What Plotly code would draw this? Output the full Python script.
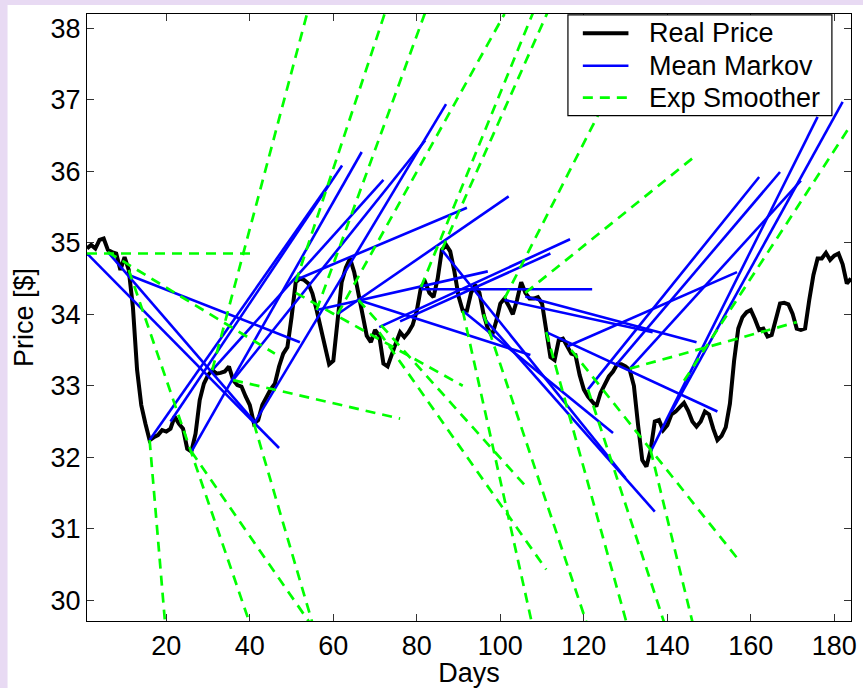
import plotly.graph_objects as go

# real price, one value per day
days = list(range(1, 185))
price = [
    34.92, 34.97, 34.92, 35.04, 35.06, 34.90, 34.87, 34.85, 34.62, 34.80,
    34.62, 34.10, 33.22, 32.73, 32.47, 32.24, 32.28, 32.31, 32.38, 32.36,
    32.40, 32.57, 32.47, 32.40, 32.12, 32.08, 32.33, 32.80, 33.03, 33.15,
    33.22, 33.17, 33.18, 33.20, 33.27, 33.08, 33.01, 32.99, 32.85, 32.73,
    32.47, 32.52, 32.73, 32.85, 32.95, 33.03, 33.27, 33.45, 33.54, 33.96,
    34.45, 34.50, 34.48, 34.43, 34.29, 34.06, 33.80, 33.50, 33.30, 33.35,
    33.90, 34.45, 34.65, 34.78, 34.59, 34.30, 33.95, 33.70, 33.61, 33.78,
    33.70, 33.31, 33.27, 33.45, 33.60, 33.75, 33.68, 33.75, 33.85, 34.05,
    34.38, 34.45, 34.30, 34.24, 34.50, 34.90, 34.97, 34.88, 34.60, 34.25,
    34.05, 34.05, 34.30, 34.41, 34.30, 34.00, 33.80, 33.70, 33.90, 34.15,
    34.22, 34.12, 34.00, 34.20, 34.45, 34.30, 34.22, 34.22, 34.24, 34.15,
    33.75, 33.40, 33.36, 33.64, 33.66, 33.56, 33.45, 33.43, 33.15, 32.95,
    32.85, 32.78, 32.71, 32.90, 33.03, 33.13, 33.20, 33.30, 33.30, 33.27,
    33.22, 33.00, 32.45, 31.96, 31.87, 32.10, 32.50, 32.52, 32.38, 32.45,
    32.60, 32.64, 32.70, 32.76, 32.65, 32.50, 32.43, 32.50, 32.64, 32.60,
    32.40, 32.24, 32.30, 32.42, 32.75, 33.35, 33.80, 33.96, 34.03, 34.06,
    33.93, 33.78, 33.80, 33.69, 33.71, 33.95, 34.15, 34.16, 34.14, 34.01,
    33.80, 33.78, 33.80, 34.20, 34.55, 34.78, 34.78, 34.86, 34.76, 34.82,
    34.85, 34.70, 34.43, 34.50,
]

# mean markov forecasts: start day/value -> end day/value
mm_day0 = [1, 6, 11, 16, 21, 26, 31, 36, 41, 51, 56, 61, 66, 71, 76, 81, 86,
           91, 96, 101, 106, 111, 116, 121, 128, 131, 136, 141]
mm_val0 = [34.85, 34.87, 34.55, 32.24, 32.50, 32.08, 33.22, 33.08, 32.47, 34.48,
           34.06, 34.00, 34.20, 33.82, 33.90, 34.35, 34.90, 34.05, 33.95, 34.20,
           34.25, 33.75, 33.55, 32.95, 33.31, 33.24, 32.08, 32.64]
mm_day1 = [47, 41.5, 52, 59.3, 62.1, 66.8, 72, 82, 87, 92, 97, 102, 107.2, 116.7,
           112, 122, 130, 127, 137, 136.5, 147, 152, 156.7, 162, 167, 172, 176, 182]
mm_val1 = [32.13, 32.47, 33.61, 35.85, 36.08, 36.27, 35.88, 36.43, 36.94, 35.49,
           34.60, 35.65, 33.43, 35.05, 34.85, 34.35, 31.71, 32.34, 31.24, 33.75,
           33.61, 32.64, 34.59, 35.92, 35.99, 35.87, 36.76, 36.97]

# exponential smoother forecasts, 40 days ahead
es_day0 = [1, 6, 11, 16, 26, 31, 36, 41, 51, 51, 56, 61, 66, 71, 81, 86, 91,
           96, 101, 106, 111, 117, 121, 131, 136, 144]
es_val0 = [34.85, 34.87, 34.62, 32.24, 32.08, 33.22, 33.08, 32.47, 34.45, 34.30,
           34.06, 34.00, 34.20, 33.75, 34.38, 34.90, 34.05, 34.00, 34.22, 34.30,
           33.75, 33.50, 32.95, 33.24, 32.10, 33.07]
es_val1 = [34.85, 33.45, 27.80, 4.60, 28.70, 42.00, 32.54, 24.50, 41.50, 33.00,
           40.46, 38.20, 31.60, 30.43, 40.10, 40.15, 23.50, 27.00, 38.80, 36.18,
           25.30, 30.57, 25.80, 33.89, 22.50, 36.65]
horizon = 40

legend_names = ["Real Price", "Mean Markov", "Exp Smoother"]


def segments(x0, y0, x1, y1):
    xs, ys = [], []
    for a, b, c, d in zip(x0, y0, x1, y1):
        xs += [a, c, None]
        ys += [b, d, None]
    return xs, ys


black = dict(color="black", width=4)
blue = dict(color="#0000ff", width=2.6)
green = dict(color="#00ff00", width=2.7, dash="10px,7px")

fig = go.Figure()

fig.add_trace(go.Scatter(x=days, y=price, mode="lines", name=legend_names[0],
                         line=black))

mx, my = segments(mm_day0, mm_val0, mm_day1, mm_val1)
fig.add_trace(go.Scatter(x=mx, y=my, mode="lines", name=legend_names[1],
                         line=blue))

es_day1 = [d + horizon for d in es_day0]
ex, ey = segments(es_day0, es_val0, es_day1, es_val1)
fig.add_trace(go.Scatter(x=ex, y=ey, mode="lines", name=legend_names[2],
                         line=green))

font = "Liberation Sans, Arial, sans-serif"
axis = dict(showline=True, linecolor="black", linewidth=1.2, mirror="ticks",
            ticks="inside", ticklen=7, tickcolor="#333333", showgrid=False,
            zeroline=False, tickfont=dict(size=27, color="black", family=font))

# matlab-like legend box, drawn by hand so the rows sit close together
shapes = [
    dict(type="rect", xref="paper", yref="paper", x0=-0.104, x1=1.02,
         y0=-0.12, y1=1.0148, fillcolor="white", line=dict(width=0),
         layer="below"),
    dict(type="rect", xref="paper", yref="paper", x0=0.6295, x1=0.975,
         y0=0.8325, y1=0.9984, fillcolor="white", line=dict(color="black", width=1.2)),
]
annotations = []
row_y = [0.9682, 0.9148, 0.8621]
for name, style, yy in zip(legend_names, [black, blue, green], row_y):
    shapes.append(dict(type="line", xref="paper", yref="paper", x0=0.649,
                       x1=0.7087, y0=yy, y1=yy, line=style))
    annotations.append(dict(xref="paper", yref="paper", x=0.7325, y=yy,
                            text=name, showarrow=False, xanchor="left",
                            yanchor="middle", font=dict(size=27)))

fig.update_layout(
    width=863, height=688,
    margin=dict(l=87, r=6, t=14, b=67),
    paper_bgcolor="#e8daf3",
    plot_bgcolor="white",
    font=dict(family=font, color="black", size=27),
    showlegend=False,
    shapes=shapes,
    annotations=annotations,
)
fig.update_xaxes(axis, range=[1, 184], tickvals=list(range(20, 181, 20)),
                 title=dict(text="Days", standoff=0, font=dict(size=27)))
fig.update_yaxes(axis, range=[29.71, 38.2], tickvals=list(range(30, 39)),
                 title=dict(text="Price [$]", standoff=9, font=dict(size=27)))

fig.write_html("out.html", config={"displayModeBar": False},
               post_script="document.body.style.margin='0';")
